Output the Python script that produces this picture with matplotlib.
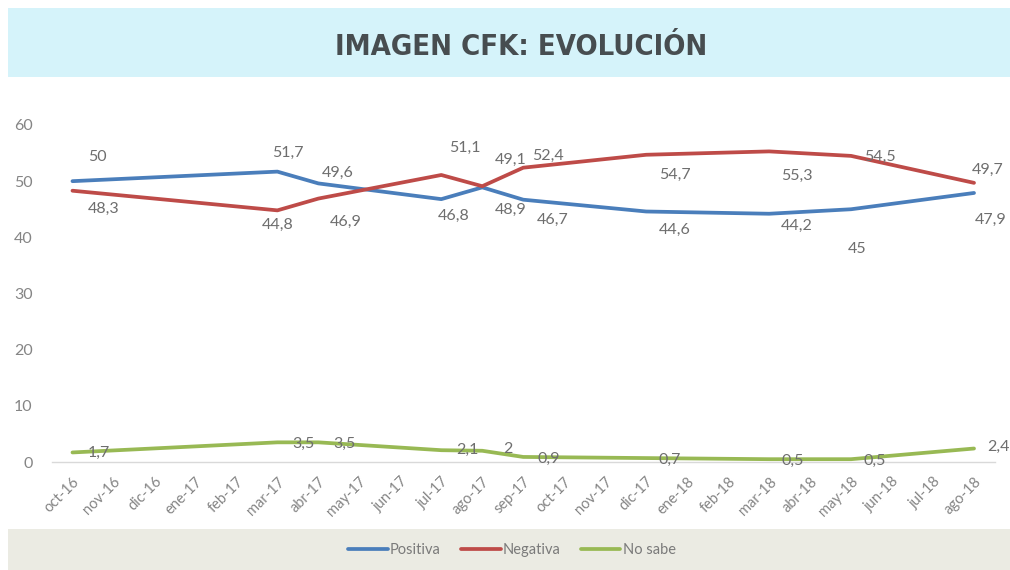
import matplotlib
matplotlib.use("Agg")
import matplotlib.pyplot as plt
import numpy as np
from matplotlib.patches import Rectangle

months = ["oct-16", "nov-16", "dic-16", "ene-17", "feb-17", "mar-17", "abr-17", "may-17",
          "jun-17", "jul-17", "ago-17", "sep-17", "oct-17", "nov-17", "dic-17", "ene-18",
          "feb-18", "mar-18", "abr-18", "may-18", "jun-18", "jul-18", "ago-18"]
survey_months = ["oct-16", "mar-17", "abr-17", "jul-17", "ago-17", "sep-17",
                 "dic-17", "mar-18", "may-18", "ago-18"]
positiva = [50, 51.7, 49.6, 46.8, 48.9, 46.7, 44.6, 44.2, 45, 47.9]
negativa = [48.3, 44.8, 46.9, 51.1, 49.1, 52.4, 54.7, 55.3, 54.5, 49.7]
no_sabe = [1.7, 3.5, 3.5, 2.1, 2, 0.9, 0.7, 0.5, 0.5, 2.4]
y_ticks = [0, 10, 20, 30, 40, 50, 60]
title = "IMAGEN CFK: EVOLUCIÓN"

# label offsets (pixels) for data labels
pos_off = [(25, 24), (10, 19), (19, 11), (12, -17), (28, -23), (29, -20), (29, -18), (28, -12), (6, -40), (17, -27)]
neg_off = [(31, -18), (0, -15), (27, -23), (24, 27), (28, 26), (25, 12), (29, -20), (28, -24), (29, -1), (14, 13)]
ns_off = [(26, 0), (26, -2), (26, -2), (26, 0), (26, 2), (25, -2), (24, -2), (24, -2), (24, -2), (24, 2)]

W, H = 1010, 570
fig = plt.figure(figsize=(W / 100, H / 100), dpi=100)
fig.patch.set_facecolor("white")

# title band
fig.patches.append(Rectangle((8 / W, 1 - 77 / H), 1 - 8 / W, 69 / H, transform=fig.transFigure,
                             facecolor="#D5F3FA", edgecolor="none", zorder=0))
fig.text(521 / W, 1 - 47 / H, title, ha="center", va="center", fontsize=21, fontweight="bold",
         fontstretch="condensed", color="#474D50",
         family=["DejaVu Sans Condensed", "DejaVu Sans"])

# legend band
fig.patches.append(Rectangle((8 / W, 0), 1 - 8 / W, 41 / H, transform=fig.transFigure,
                             facecolor="#EBEBE3", edgecolor="none", zorder=0))

left, right = 52 / W, 994.5 / W
bottom, top = 1 - 462 / H, 1 - 125 / H
ax = fig.add_axes([left, bottom, right - left, top - bottom])
ax.set_facecolor("none")

idx = [months.index(m) for m in survey_months]
colors = {"Positiva": "#4A7EBB", "Negativa": "#BE4B48", "No sabe": "#98B954"}
series = [("Positiva", positiva, pos_off), ("Negativa", negativa, neg_off), ("No sabe", no_sabe, ns_off)]
lines = []
for name, vals, offs in series:
    ln, = ax.plot(idx, vals, color=colors[name], lw=2.7, solid_capstyle="round", label=name, zorder=3)
    lines.append(ln)
    for x, v, (dx, dy) in zip(idx, vals, offs):
        s = ("%g" % v).replace(".", ",")
        ax.annotate(s, (x, v), xytext=(dx, dy), textcoords="offset pixels", ha="center", va="center",
                    fontsize=11.5, color="#6E6E6E", family="Lato", zorder=4, annotation_clip=False)

ax.set_xlim(-0.5, len(months) - 0.5)
ax.set_ylim(0, 60)
ax.set_yticks(y_ticks)
ax.set_yticklabels([str(t) for t in y_ticks], fontsize=11.5, color="#858585", family="Lato")
ax.tick_params(axis="y", length=0, pad=14)
ax.set_xticks(range(len(months)))
ax.set_xticklabels(months, rotation=45, ha="right", rotation_mode="anchor", fontsize=10.5,
                   color="#858585", family="Lato")
ax.tick_params(axis="x", length=0, pad=9)
for sp in ["top", "right", "left"]:
    ax.spines[sp].set_visible(False)
ax.spines["bottom"].set_color("#D9D9D9")
ax.spines["bottom"].set_linewidth(1)

fig.legend(handles=lines, labels=[l.get_label() for l in lines], loc="center",
           bbox_to_anchor=(512 / W, 20 / H), ncol=3, frameon=False,
           handlelength=2.7, handletextpad=0.15, columnspacing=1.4,
           labelcolor="#7A7A7A", prop={"family": "Lato", "size": 10.5})

fig.savefig("out.png", dpi=100, facecolor=fig.get_facecolor())
